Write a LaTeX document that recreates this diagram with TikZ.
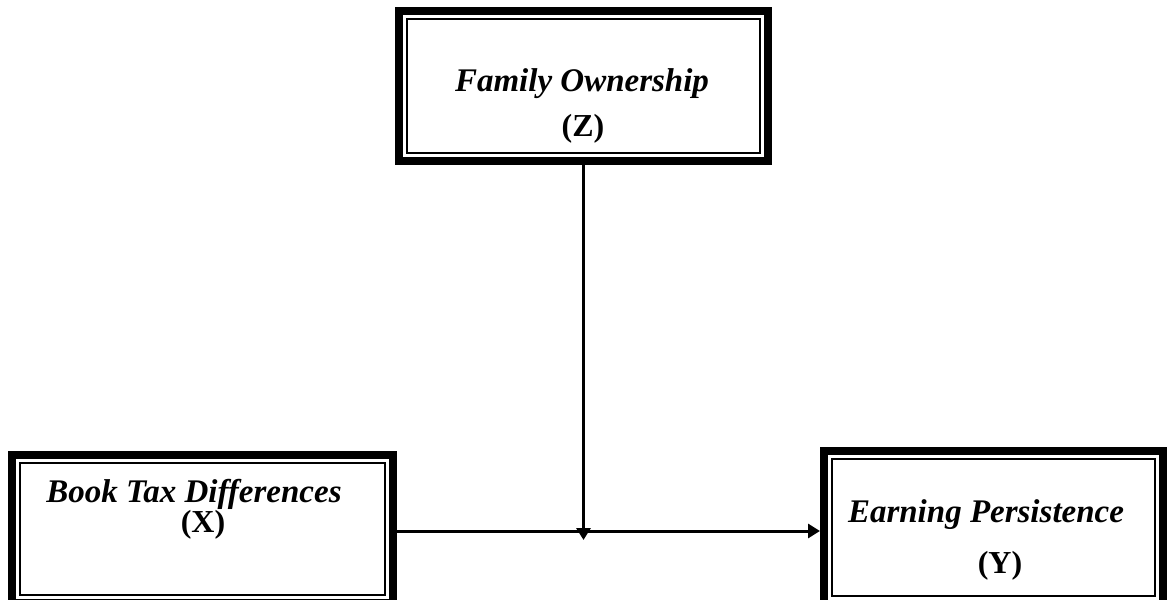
\documentclass[tikz,border=0pt]{standalone}
\usepackage{fontspec}
\setmainfont{Liberation Serif}
\usetikzlibrary{arrows.meta,positioning}
\tikzset{
  frame/.style={draw, line width=1.5pt, inner sep=0pt, outer sep=12pt},
  vname/.style={anchor=base, font=\fontsize{33}{33}\selectfont\bfseries\itshape},
  vlet/.style={anchor=base, font=\fontsize{32}{32}\selectfont\bfseries},
  link/.style={line width=3pt, -{Triangle[length=12pt,width=14pt]}}
}
\begin{document}
\begin{tikzpicture}[x=1pt,y=-1pt]
  \useasboundingbox (0,0) rectangle (1168,604);
  \clip (0,0) rectangle (1168,599);
  % boxes
  \node[frame, minimum width=353pt, minimum height=134pt] (Z) at (583.5,86) {};
  \node[frame, minimum width=365pt, minimum height=132pt] (X) at (202.5,529) {};
  \node[frame, minimum width=323pt, minimum height=137pt] (Y) at (993.5,527.5) {};
  \foreach \b in {Z,X,Y}
    \draw[line width=8pt] ([shift={(4,4)}]\b.north west) rectangle ([shift={(-4,-4)}]\b.south east);
  % texts
  \node[vname] (famZ) at (582,92) {Family Ownership};
  \node[vlet] (letZ) at (583,137) {(Z)};
  \node[vname] (btdX) at (194,502) {Book Tax Differences};
  \node[vlet] (letX) at (203,532) {(X)};
  \node[vname] (epY) at (986,522) {Earning Persistence};
  \node[vlet] (letY) at (1000,573) {(Y)};
  % arrows
  \coordinate (m) at (583.5,531);
  \coordinate (mt) at (583.5,540);
  \draw[link] (X.east |- m) -- (Y.west |- m);
  \draw[link] (Z.south) -- (mt);
\end{tikzpicture}
\end{document}
